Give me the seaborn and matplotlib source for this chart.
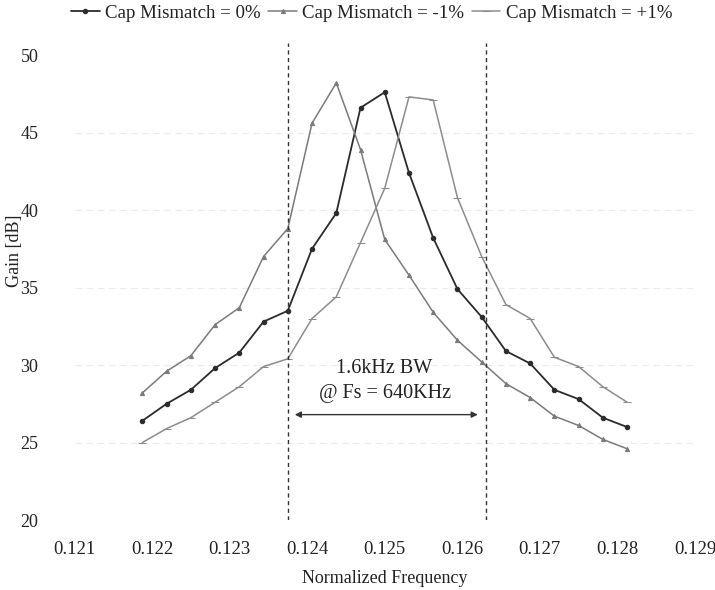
import matplotlib
matplotlib.use("Agg")
import matplotlib.pyplot as plt
import seaborn as sns
import pandas as pd

# Normalized frequency of each measured point (0.2 kHz steps at Fs = 640 kHz)
freq = [0.121875, 0.1221875, 0.1225, 0.1228125, 0.123125, 0.1234375, 0.12375,
        0.1240625, 0.124375, 0.1246875, 0.125, 0.1253125, 0.125625, 0.1259375,
        0.12625, 0.1265625, 0.126875, 0.1271875, 0.1275, 0.1278125, 0.128125]

# Gain [dB] for each capacitor mismatch case
gain_0 = [26.4, 27.5, 28.4, 29.8, 30.8, 32.8, 33.5, 37.5, 39.8, 46.6, 47.6,
          42.4, 38.2, 34.9, 33.1, 30.9, 30.1, 28.4, 27.8, 26.6, 26.0]
gain_m1 = [28.2, 29.6, 30.6, 32.6, 33.7, 37.0, 38.8, 45.6, 48.2, 43.9, 38.1,
           35.8, 33.4, 31.6, 30.2, 28.8, 27.9, 26.7, 26.1, 25.2, 24.6]
gain_p1 = [25.0, 25.9, 26.6, 27.6, 28.6, 29.9, 30.4, 33.0, 34.4, 37.9, 41.4,
           47.3, 47.1, 40.8, 37.0, 33.9, 33.0, 30.5, 29.9, 28.6, 27.6]

series_names = ["Cap Mismatch = 0%", "Cap Mismatch = -1%", "Cap Mismatch = +1%"]
x_ticks = [0.121, 0.122, 0.123, 0.124, 0.125, 0.126, 0.127, 0.128, 0.129]
x_tick_labels = ["0.121", "0.122", "0.123", "0.124", "0.125", "0.126", "0.127", "0.128", "0.129"]
y_ticks = [20, 25, 30, 35, 40, 45, 50]
bw_edges = [0.12375, 0.1263]

sns.set_theme(style="white")
plt.rcParams["font.family"] = ["Liberation Serif", "DejaVu Serif"]

df = pd.concat([
    pd.DataFrame({"freq": freq, "gain": g, "series": name})
    for g, name in zip([gain_0, gain_m1, gain_p1], series_names)
])

fig = plt.figure(figsize=(7.15, 5.9), dpi=100)
ax = fig.add_axes([0.1042, 0.1186, 0.8678, 0.8144])

styles = {
    series_names[0]: dict(color="#2b2b2b", marker="o", markersize=3.2, linewidth=1.3),
    series_names[1]: dict(color="#7a7a7a", marker="^", markersize=3.0, linewidth=1.1),
    series_names[2]: dict(color="#8c8c8c", marker="_", markersize=6, linewidth=1.1),
}
for name in series_names:
    sub = df[df["series"] == name]
    st = styles[name]
    sns.lineplot(data=sub, x="freq", y="gain", ax=ax, label=name,
                 color=st["color"], marker=st["marker"], markersize=st["markersize"],
                 linewidth=st["linewidth"], markeredgecolor=st["color"],
                 markerfacecolor=st["color"])

# faint horizontal guides
for yv in y_ticks[1:-1]:
    ax.axhline(yv, color="#ececec", linestyle=(0, (6, 4)), linewidth=0.8, zorder=0)

# bandwidth markers
ax.vlines(bw_edges, 20, 50.8, colors="#333333", linestyles=(0, (3, 2.5)), linewidth=1.0)
ax.annotate("", xy=(0.12384, 26.8), xytext=(0.12620, 26.8),
            arrowprops=dict(arrowstyle="<|-|>", color="#333333", lw=1.0,
                            mutation_scale=9, shrinkA=0, shrinkB=0))
ax.text(0.12499, 29.8, "1.6kHz BW", ha="center", va="center", fontsize=14.5, color="#222222")
ax.text(0.12501, 28.15, "@ Fs = 640KHz", ha="center", va="center", fontsize=14.5, color="#222222")

ax.set_xlim(0.121, 0.129)
ax.set_ylim(20, 51)
ax.set_xticks(x_ticks)
ax.set_xticklabels(x_tick_labels)
ax.set_yticks(y_ticks)
ax.tick_params(axis="x", labelsize=13.5, pad=15, length=0, colors="#222222")
ax.tick_params(axis="y", labelsize=13, pad=26, length=0, colors="#222222")
for s in ax.spines.values():
    s.set_visible(False)

ax.set_xlabel("Normalized Frequency", fontsize=13, color="#222222")
ax.set_ylabel("Gain [dB]", fontsize=13, color="#222222")
ax.xaxis.set_label_coords(0.5, -0.103)
ax.yaxis.set_label_coords(-0.083, 0.56)

ax.legend_.remove()
handles, labels = ax.get_legend_handles_labels()
fig.legend(handles, labels, loc="center", bbox_to_anchor=(0.52, 0.978), ncol=3,
           frameon=False, fontsize=13.6, handlelength=1.5, handletextpad=0.3,
           columnspacing=0.4, labelcolor="#222222")

fig.savefig("out.png", dpi=100)
